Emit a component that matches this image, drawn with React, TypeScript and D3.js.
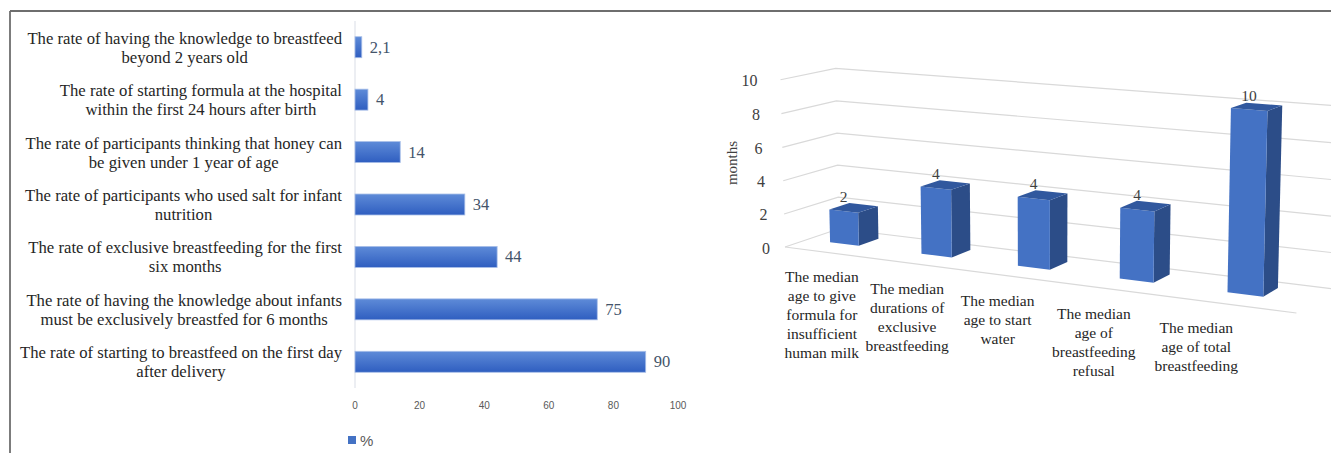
import React from "react";
import * as d3 from "d3";

// ---------- Data ----------
const rateLabels: string[][] = [
  ["The rate of having the knowledge to breastfeed", "beyond 2 years old"],
  ["The rate of starting formula at the hospital", "within the first 24 hours after birth"],
  ["The rate of participants thinking that honey can", "be given under 1 year of age"],
  ["The rate of participants who used salt for infant", "nutrition"],
  ["The rate of exclusive breastfeeding for the first", "six months"],
  ["The rate of having the knowledge about infants", "must be exclusively breastfed for 6 months"],
  ["The rate of starting to breastfeed on the first day", "after delivery"],
];
const rateValues = [2.1, 4, 14, 34, 44, 75, 90];
const rateValueText = ["2,1", "4", "14", "34", "44", "75", "90"];
const rateTicks = [0, 20, 40, 60, 80, 100];
const legendLabel = "%";

const medianLabels: string[][] = [
  ["The median", "age to give", "formula for", "insufficient", "human milk"],
  ["The median", "durations of", "exclusive", "breastfeeding"],
  ["The median", "age to start", "water"],
  ["The median", "age of", "breastfeeding", "refusal"],
  ["The median", "age of total", "breastfeeding"],
];
const medianValues = [2, 4, 4, 4, 10];
const monthTicks = [0, 2, 4, 6, 8, 10];
const monthAxisTitle = "months";

// ---------- Helpers ----------
const SERIF = "'Liberation Serif', 'DejaVu Serif', serif";
const SANS = "'Liberation Sans', 'DejaVu Sans', sans-serif";

let measureCtx: CanvasRenderingContext2D | null = null;
function textWidth(s: string, font: string): number {
  if (!measureCtx) measureCtx = document.createElement("canvas").getContext("2d");
  if (!measureCtx) return s.length * 7;
  measureCtx.font = font;
  return measureCtx.measureText(s).width;
}

// ---------- Left chart ----------
function RateChart() {
  const x = d3.scaleLinear().domain([0, 100]).range([355, 678]);
  const y = d3
    .scaleBand<number>()
    .domain(d3.range(rateValues.length))
    .range([21, 388])
    .paddingInner(0.6)
    .paddingOuter(0.3);
  const fontSize = 16.7;
  const labelFont = `${fontSize}px ${SERIF}`;
  const labelRight = 342;
  const lineH = 19;
  return (
    <g>
      <defs>
        <linearGradient id="hbarGrad" x1="0" y1="0" x2="0" y2="1">
          <stop offset="0" stopColor="#5e8bd8" />
          <stop offset="1" stopColor="#2f5ec0" />
        </linearGradient>
      </defs>
      <line x1={x(0)} x2={x(0)} y1={21} y2={388} stroke="#d9dde6" strokeWidth={1} />
      {rateValues.map((v, i) => (
        <rect
          key={"b" + i}
          x={x(0)}
          y={y(i)!}
          width={x(v) - x(0)}
          height={y.bandwidth()}
          fill="url(#hbarGrad)"
          stroke="#a7bee8"
          strokeWidth={0.8}
        />
      ))}
      {rateValues.map((v, i) => (
        <text
          key={"v" + i}
          x={x(v) + 8}
          y={y(i)! + y.bandwidth() / 2}
          dominantBaseline="central"
          fontFamily={SERIF}
          fontSize={16.5}
          fill="#44546a"
        >
          {rateValueText[i]}
        </text>
      ))}
      {rateLabels.map((lines, i) => {
        const w = Math.max(...lines.map((l) => textWidth(l, labelFont)));
        const cx = labelRight - w / 2;
        const cy = y(i)! + y.bandwidth() / 2;
        return (
          <text
            key={"l" + i}
            fontFamily={SERIF}
            fontSize={fontSize}
            fill="#262626"
            textAnchor="middle"
            dominantBaseline="central"
          >
            {lines.map((l, j) => (
              <tspan key={j} x={cx} y={cy + (j - (lines.length - 1) / 2) * lineH}>
                {l}
              </tspan>
            ))}
          </text>
        );
      })}
      {rateTicks.map((t) => (
        <text
          key={"t" + t}
          x={x(t)}
          y={405}
          textAnchor="middle"
          dominantBaseline="central"
          fontFamily={SANS}
          fontSize={10}
          fill="#595959"
        >
          {t}
        </text>
      ))}
      <rect x={348} y={436} width={8} height={8} fill="#4472c4" />
      <text x={360} y={440.5} dominantBaseline="central" fontFamily={SANS} fontSize={15} fill="#595959">
        {legendLabel}
      </text>
    </g>
  );
}

// ---------- Right chart (3D columns) ----------
const deg = Math.PI / 180;
const view = { yaw: 28 * deg, pitch: 11 * deg, dist: 1900 };
const box = { w: 572, h: 178, d: 101 };
const frontLeftAnchor: [number, number] = [785, 247];

function rawProject(X: number, Y: number, Z: number): [number, number] {
  const px = X - box.w / 2;
  const py = Y - box.h / 2;
  const pz = Z - box.d / 2;
  const cb = Math.cos(view.yaw), sb = Math.sin(view.yaw);
  const ca = Math.cos(view.pitch), sa = Math.sin(view.pitch);
  const x1 = px * cb + pz * sb;
  const z1 = -px * sb + pz * cb;
  const y2 = py * ca + z1 * sa;
  const z2 = -py * sa + z1 * ca;
  const s = 1 / (1 + z2 / view.dist);
  return [x1 * s, -y2 * s];
}
const origin = rawProject(0, 0, 0);
function project(X: number, Y: number, Z: number): [number, number] {
  const p = rawProject(X, Y, Z);
  return [p[0] - origin[0] + frontLeftAnchor[0], p[1] - origin[1] + frontLeftAnchor[1]];
}
function poly(pts: [number, number][]): string {
  return (d3.line()(pts) || "") + "Z";
}

function MedianChart() {
  const yv = d3.scaleLinear().domain([0, 10]).range([0, box.h]);
  const xb = d3
    .scaleBand<number>()
    .domain(d3.range(medianValues.length))
    .range([-10, box.w - 10])
    .paddingInner(0.68)
    .paddingOuter(0.34);
  const bw = xb.bandwidth();
  const bd = 38;
  const zc = box.d / 2 + 10;
  const z0 = zc - bd / 2;
  const z1 = zc + bd / 2;
  const grid = "#d9d9d9";
  const labelFont = 15.5;
  return (
    <g>
      {monthTicks.map((t) => {
        const a = project(0, yv(t), 0);
        const b = project(0, yv(t), box.d);
        const c = project(box.w, yv(t), box.d);
        return (
          <polyline
            key={"g" + t}
            points={[a, b, c].map((p) => p.join(",")).join(" ")}
            fill="none"
            stroke={grid}
            strokeWidth={1.2}
          />
        );
      })}
      {(() => {
        const a = project(0, 0, 0);
        const b = project(box.w, 0, 0);
        return <line x1={a[0]} y1={a[1]} x2={b[0]} y2={b[1]} stroke={grid} strokeWidth={1.2} />;
      })()}
      {monthTicks.map((t) => {
        const a = project(0, yv(t), 0);
        return (
          <text
            key={"t" + t}
            x={a[0] - 15 - 0.8 * t}
            y={a[1] + 1}
            textAnchor="end"
            dominantBaseline="central"
            fontFamily={SERIF}
            fontSize={16}
            fill="#404040"
          >
            {t}
          </text>
        );
      })}
      <text
        transform="translate(732,163) rotate(-90)"
        textAnchor="middle"
        dominantBaseline="central"
        fontFamily={SERIF}
        fontSize={15}
        fill="#404040"
      >
        {monthAxisTitle}
      </text>
      {medianValues.map((v, i) => {
        const x0 = xb(i)!;
        const x1 = x0 + bw;
        const h = yv(v);
        const front = poly([project(x0, 0, z0), project(x1, 0, z0), project(x1, h, z0), project(x0, h, z0)]);
        const side = poly([project(x1, 0, z0), project(x1, 0, z1), project(x1, h, z1), project(x1, h, z0)]);
        const top = poly([project(x0, h, z0), project(x1, h, z0), project(x1, h, z1), project(x0, h, z1)]);
        const ft = project(x0 + bw / 2, h, z0);
        const tc = project(x0 + bw / 2, h, zc);
        return (
          <g key={"bar" + i}>
            <path d={side} fill="#2c4d88" />
            <path d={front} fill="#4472c4" />
            <path d={top} fill="#31589e" />
            <text
              x={ft[0]}
              y={tc[1] - 6}
              textAnchor="middle"
              fontFamily={SERIF}
              fontSize={15.5}
              fill="#404040"
            >
              {v}
            </text>
          </g>
        );
      })}
      {medianLabels.map((lines, i) => {
        const a = project(xb(i)! + bw / 2, 0, 0);
        const cx = a[0] - 0.2 - 8 * i;
        const top = a[1] + 24.5 - 0.5 * i;
        return (
          <text
            key={"c" + i}
            fontFamily={SERIF}
            fontSize={labelFont}
            fill="#262626"
            textAnchor="middle"
            dominantBaseline="central"
          >
            {lines.map((l, j) => (
              <tspan key={j} x={cx} y={top + j * 19}>
                {l}
              </tspan>
            ))}
          </text>
        );
      })}
    </g>
  );
}

export default function App() {
  return (
    <svg
      width={1331}
      height={453}
      viewBox="0 0 1331 453"
      style={{ position: "absolute", left: 0, top: 0, display: "block", background: "#ffffff" }}
    >
      <rect x={0} y={0} width={1331} height={453} fill="#ffffff" />
      <line x1={10} y1={11} x2={1331} y2={11} stroke="#6e6e6e" strokeWidth={1.8} />
      <line x1={10} y1={11} x2={10} y2={453} stroke="#6e6e6e" strokeWidth={1.8} />
      <RateChart />
      <MedianChart />
    </svg>
  );
}
